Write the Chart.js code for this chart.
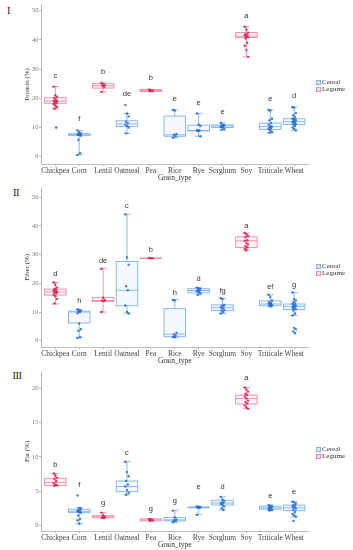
<!DOCTYPE html>
<html>
<head>
<meta charset="utf-8">
<script src="https://cdn.jsdelivr.net/npm/chart.js@4.4.1/dist/chart.umd.min.js"></script>
<style>
html, body { margin: 0; padding: 0; background: #fff; }
body { width: 353px; height: 550px; position: relative; overflow: hidden; font-family: 'Liberation Serif', serif; }
.panel { position: absolute; left: 0; width: 353px; }
.roman { position: absolute; font-size: 10.5px; color: #222; line-height: 1; letter-spacing: -0.5px; }
.legend { position: absolute; left: 316px; font-size: 7px; color: #333; line-height: 7px; white-space: nowrap; }
.key { display: inline-block; box-sizing: border-box; width: 4.5px; height: 4.5px; border: 1px solid; margin-right: 1.5px; vertical-align: -0.5px; }
</style>
</head>
<body>
<div class="roman" style="left:7px;top:6px">I</div>
<div class="roman" style="left:13px;top:188px">II</div>
<div class="roman" style="left:12.5px;top:371px">III</div>

<div class="panel" style="top:0px;height:184px"><canvas id="proteinChart"></canvas></div>
<div class="panel" style="top:183px;height:184px"><canvas id="fiberChart"></canvas></div>
<div class="panel" style="top:366px;height:184px"><canvas id="fatChart"></canvas></div>

<div class="legend" style="top:79px"><span class="key" style="border-color:#7fb2ee;background:#dbe9fb"></span>Cereal<br><span class="key" style="border-color:#ef8aa3;background:#fbdde4"></span>Legume</div>
<div class="legend" style="top:263px"><span class="key" style="border-color:#7fb2ee;background:#dbe9fb"></span>Cereal<br><span class="key" style="border-color:#ef8aa3;background:#fbdde4"></span>Legume</div>
<div class="legend" style="top:446px"><span class="key" style="border-color:#7fb2ee;background:#dbe9fb"></span>Cereal<br><span class="key" style="border-color:#ef8aa3;background:#fbdde4"></span>Legume</div>

<script>
// categories
const grainTypes = ['Chickpea', 'Corn', 'Lentil', 'Oatmeal', 'Pea', 'Rice', 'Rye', 'Sorghum', 'Soy', 'Triticale', 'Wheat'];
const grainGroups = ['Legume', 'Cereal', 'Legume', 'Cereal', 'Legume', 'Cereal', 'Cereal', 'Cereal', 'Legume', 'Cereal', 'Cereal'];

// box stats per grain: [lower whisker, q1, median, q3, upper whisker]
const proteinBoxes = [
    [16.3, 18.3, 19.0, 20.2, 24.0], [0.6, 7.2, 7.5, 7.9, 9.0], [22.2, 23.5, 24.3, 25.0, 25.3],
    [8.0, 10.3, 11.2, 12.3, 14.8], [22.3, 22.3, 22.7, 23.0, 23.0], [6.5, 7.0, 7.5, 13.9, 16.0],
    [7.0, 8.8, 9.0, 10.8, 14.8], [9.2, 10.0, 10.5, 10.9, 11.6], [34.2, 40.8, 41.3, 42.5, 44.5],
    [8.2, 9.3, 10.3, 11.5, 16.0], [9.0, 11.0, 12.0, 13.0, 17.0]
];
const proteinPoints = [
    [24, 21, 20.5, 20, 19.5, 19.2, 19, 18.8, 18.5, 18.3, 18, 17.5, 17, 16.5, 10],
    [9, 8.4, 8, 7.8, 7.6, 7.5, 7.4, 7.2, 5.8, 1.2, 0.6],
    [25.3, 24.8, 24.5, 24.3, 23.8, 22.2],
    [17.7, 14.8, 13.8, 12, 11.5, 11, 10.5, 10, 8],
    [23, 22.8, 22.6, 22.4],
    [16, 15.8, 7.8, 7.5, 7, 6.5],
    [14.8, 11, 10.5, 9.2, 9, 8.9, 8.8, 7],
    [11.6, 11, 10.8, 10.5, 10.4, 10.2, 10, 9.5, 9.2],
    [44.5, 43.5, 42.5, 42, 41.8, 41.5, 41.2, 41, 40.5, 39, 38, 36.5, 34.2],
    [16, 15.8, 13, 12.5, 11.5, 11, 10.5, 10.3, 10, 9.8, 9.5, 9, 8.5, 8.2],
    [17, 16.8, 15, 14.2, 13.5, 13, 12.8, 12.5, 12.2, 12, 11.8, 11.5, 11.2, 11, 10.5, 10, 9.5, 9]
];
const proteinLetters = ['c', 'f', 'b', 'de', 'b', 'e', 'e', 'e', 'a', 'e', 'd'];
const proteinLetterY = [27.7, 13.1, 29.1, 21.5, 26.8, 19.7, 18.5, 15.2, 48.3, 19.7, 20.8];
const proteinTicks = [0, 10, 20, 30, 40, 50];

const fiberBoxes = [
    [12.8, 15.9, 17.0, 18.0, 20.3], [1.2, 6.2, 10.0, 10.3, 10.8], [10.0, 13.7, 14.0, 15.1, 25.2],
    [9.6, 12.2, 17.6, 27.6, 44.1], [28.7, 28.7, 28.7, 28.8, 28.8], [1.2, 1.4, 2.3, 11.2, 14.3],
    [16.0, 16.7, 17.5, 18.1, 18.5], [9.5, 10.5, 11.5, 12.5, 14.8], [31.5, 32.5, 34.8, 36.2, 37.5],
    [11.8, 12.2, 12.8, 13.9, 16.0], [8.8, 10.9, 12.0, 12.8, 16.8]
];
const fiberPoints = [
    [20.3, 19.5, 18.5, 18, 17.8, 17.5, 17.2, 17, 16.8, 16.5, 16, 15.5, 14.5, 13],
    [11, 10.7, 10.5, 10.2, 10, 9.6, 6, 4, 3.5, 1.2, 1],
    [25, 15, 14.2, 14, 13.8, 10],
    [44, 29, 26.5, 19, 17.6, 12.3, 10, 9.5],
    [28.8, 28.7, 28.7],
    [14.2, 14, 2.8, 2.2, 1.8, 1.3, 1.2],
    [18.5, 18.2, 18, 17.6, 17.4, 17.2, 17, 16.5, 16],
    [14.8, 14.5, 12.5, 12.2, 12, 11.6, 11.2, 10.8, 10.5, 10, 9.5],
    [37.5, 37, 36.5, 36, 35, 34.8, 34, 33.5, 33, 32.5, 32, 31.5],
    [16, 15.2, 14, 13.5, 13.2, 13, 12.8, 12.5, 12.3, 12],
    [16.8, 14.5, 14, 13.5, 13, 12.8, 12.5, 12.2, 12, 11.8, 11.5, 11.2, 11, 10.5, 9.5, 8.8, 4.5, 4, 3.2, 2.6]
];
const fiberLetters = ['d', 'h', 'de', 'c', 'b', 'h', 'd', 'fg', 'a', 'ef', 'g'];
const fiberLetterY = [23.1, 14.0, 27.7, 46.8, 31.6, 16.8, 21.4, 17.4, 39.9, 18.8, 19.5];
const fiberTicks = [0, 10, 20, 30, 40, 50];

const fatBoxes = [
    [5.8, 5.85, 6.3, 6.9, 7.6], [0.3, 1.9, 2.1, 2.4, 2.6], [1.1, 1.15, 1.3, 1.45, 1.9],
    [4.5, 4.95, 5.7, 6.5, 9.3], [0.7, 0.7, 0.85, 1.0, 1.0], [0.5, 0.7, 0.85, 1.2, 2.2],
    [1.6, 2.6, 2.65, 2.72, 2.8], [2.3, 3.0, 3.3, 3.7, 4.2], [17.0, 17.7, 18.5, 19.0, 20.1],
    [2.2, 2.4, 2.6, 2.85, 3.0], [1.3, 2.2, 2.6, 3.0, 3.5]
];
const fatPoints = [
    [7.6, 7.3, 7, 6.8, 6.5, 6.2, 6, 5.9, 5.8],
    [4.4, 2.6, 2.5, 2.3, 2.2, 2.1, 2, 1.9, 1.5, 1, 0.8, 0.3],
    [1.9, 1.5, 1.3, 1.2, 1.1],
    [9.3, 7.8, 7.2, 6.5, 6, 5.7, 5.2, 4.8, 4.5],
    [1.0, 0.9, 0.8, 0.7],
    [2.2, 1.2, 0.9, 0.8, 0.7, 0.5],
    [2.8, 2.75, 2.7, 2.65, 2.6, 1.6],
    [4.2, 3.8, 3.6, 3.4, 3.3, 3.2, 3, 2.8, 2.5, 2.3],
    [20.1, 19.8, 19.5, 19.2, 19, 18.8, 18.5, 18.2, 18, 17.8, 17.5, 17.2, 17],
    [3, 2.9, 2.8, 2.7, 2.6, 2.5, 2.4, 2.3, 2.2],
    [3.5, 3.4, 3.2, 3, 2.9, 2.8, 2.6, 2.5, 2.3, 2, 1.7, 1.5, 1.3, 0.7]
];
const fatLetters = ['b', 'f', 'g', 'c', 'g', 'g', 'e', 'd', 'a', 'e', 'e'];
const fatLetterY = [8.9, 5.9, 3.3, 10.6, 2.4, 3.6, 5.6, 5.6, 21.5, 4.4, 4.9];
const fatTicks = [0, 5, 10, 15, 20];

const colors = {
    Cereal: { line: '#7fb2ee', fill: 'rgba(127,178,238,0.08)', point: 'rgba(25,105,220,0.85)' },
    Legume: { line: '#ef8aa3', fill: 'rgba(239,138,163,0.08)', point: 'rgba(222,20,70,0.85)' }
};
const axisGrey = '#bdbdbd';

// boxes, whiskers and caps drawn from the scales
const boxPlugin = {
    id: 'boxes',
    beforeDatasetsDraw(chart, args, opts) {
        const { ctx, scales: { x, y } } = chart;
        const half = x.getPixelForValue(1.45) - x.getPixelForValue(1);
        const cap = x.getPixelForValue(1.15) - x.getPixelForValue(1);
        ctx.save();
        ctx.lineWidth = 0.9;
        opts.boxes.forEach((b, i) => {
            const c = colors[grainGroups[i]];
            const cx = x.getPixelForValue(i + 1);
            const [lo, q1, med, q3, hi] = b.map(v => y.getPixelForValue(v));
            ctx.strokeStyle = c.line;
            ctx.fillStyle = c.fill;
            ctx.beginPath();
            ctx.moveTo(cx, q3); ctx.lineTo(cx, hi);
            ctx.moveTo(cx, q1); ctx.lineTo(cx, lo);
            ctx.moveTo(cx - cap, hi); ctx.lineTo(cx + cap, hi);
            ctx.moveTo(cx - cap, lo); ctx.lineTo(cx + cap, lo);
            ctx.stroke();
            ctx.fillRect(cx - half, q3, half * 2, q1 - q3);
            ctx.strokeRect(cx - half, q3, half * 2, q1 - q3);
            ctx.beginPath();
            ctx.moveTo(cx - half, med); ctx.lineTo(cx + half, med);
            ctx.stroke();
        });
        ctx.restore();
    },
    afterDatasetsDraw(chart, args, opts) {
        const { ctx, scales: { x, y } } = chart;
        ctx.save();
        ctx.font = '7.5px "Liberation Sans", Arial, sans-serif';
        ctx.fillStyle = '#333';
        ctx.textAlign = 'center';
        ctx.textBaseline = 'middle';
        opts.letters.forEach((t, i) => {
            ctx.fillText(t, x.getPixelForValue(i + 1), y.getPixelForValue(opts.letterY[i]));
        });
        ctx.restore();
    }
};

function pointsFor(points, group) {
    const out = [];
    points.forEach((vals, i) => {
        if (grainGroups[i] !== group) return;
        vals.forEach((v, j) => {
            const jitter = (((j * 7) % 5) - 2) * 0.035;
            out.push({ x: i + 1 + jitter, y: v });
        });
    });
    return out;
}

function makePanel(canvasId, cfg) {
    const serif = 'Liberation Serif';
    new Chart(document.getElementById(canvasId), {
        type: 'scatter',
        data: {
            datasets: ['Cereal', 'Legume'].map(g => ({
                label: g,
                data: pointsFor(cfg.points, g),
                backgroundColor: colors[g].point,
                borderWidth: 0,
                pointRadius: 1.2
            }))
        },
        options: {
            responsive: true,
            maintainAspectRatio: false,
            animation: false,
            layout: { padding: { left: 0, right: 44.5, top: cfg.padTop, bottom: cfg.padBottom } },
            plugins: {
                legend: { display: false },
                tooltip: { enabled: false },
                boxes: { boxes: cfg.boxes, letters: cfg.letters, letterY: cfg.letterY }
            },
            scales: {
                x: {
                    type: 'linear',
                    min: 0.4,
                    max: 11.6,
                    afterBuildTicks: s => { s.ticks = grainTypes.map((n, i) => ({ value: i + 1 })); },
                    afterFit: s => { s.height = 19; },
                    grid: { drawOnChartArea: false, tickLength: 2, color: axisGrey },
                    border: { color: axisGrey, width: 1 },
                    ticks: {
                        autoSkip: false, maxRotation: 0, padding: 0.5, color: '#444',
                        font: { family: serif, size: 7.5 },
                        callback: v => grainTypes[Math.round(v) - 1]
                    },
                    title: {
                        display: true, text: 'Grain_type', color: '#333',
                        font: { family: serif, size: 7.5 }, padding: { top: 0, bottom: 0.5 }
                    }
                },
                y: {
                    min: cfg.yMin,
                    max: cfg.yMax,
                    afterBuildTicks: s => { s.ticks = cfg.ticks.map(v => ({ value: v })); },
                    afterFit: s => { s.width = 41; },
                    grid: { drawOnChartArea: false, tickLength: 2, color: axisGrey },
                    border: { color: axisGrey, width: 1 },
                    ticks: { padding: 0.5, color: '#777', font: { family: serif, size: 6.5 } },
                    title: {
                        display: true, text: cfg.title, color: '#333',
                        font: { family: serif, size: 7 }, padding: { top: 22.5, bottom: 0 }
                    }
                }
            }
        },
        plugins: [boxPlugin]
    });
}

makePanel('proteinChart', {
    boxes: proteinBoxes, points: proteinPoints, letters: proteinLetters, letterY: proteinLetterY,
    ticks: proteinTicks, title: 'Protein (%)', yMin: -2.5, yMax: 52.05, padTop: 4.7, padBottom: 1
});
makePanel('fiberChart', {
    boxes: fiberBoxes, points: fiberPoints, letters: fiberLetters, letterY: fiberLetterY,
    ticks: fiberTicks, title: 'Fiber (%)', yMin: -2.28, yMax: 53.4, padTop: 2, padBottom: 0.7
});
makePanel('fatChart', {
    boxes: fatBoxes, points: fatPoints, letters: fatLetters, letterY: fatLetterY,
    ticks: fatTicks, title: 'Fat (%)', yMin: -0.77, yMax: 22.4, padTop: 5.7, padBottom: 0
});
</script>
</body>
</html>
